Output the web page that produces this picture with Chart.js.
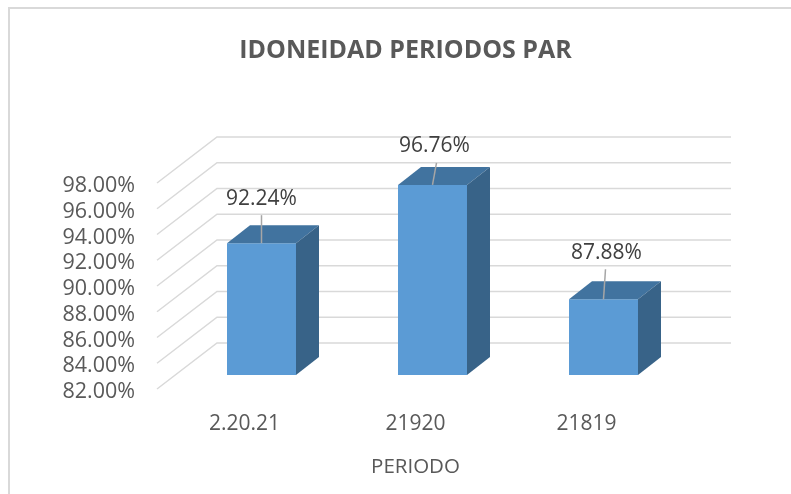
<!DOCTYPE html>
<html>
<head>
<meta charset="utf-8">
<script src="https://cdn.jsdelivr.net/npm/chart.js@4/dist/chart.umd.min.js"></script>
<style>
html, body { margin: 0; padding: 0; background: #fff; overflow: hidden; }
#plot { display: block; position: absolute; left: 0; top: 0; }
</style>
</head>
<body>
<canvas id="plot" width="791" height="494"></canvas>
<script>
const periods = ["2.20.21", "21920", "21819"];
const idoneidad = [92.24, 96.76, 87.88];
const chartTitle = "IDONEIDAD PERIODOS PAR";
const axisTitle = "PERIODO";

// label nudges, same as the hand-moved labels in the original
const labelDx = [0, 2, 3];
const labelDy = [44, 39, 46];
const leaderTop = [[0, 28], [4, 22], [2, 30]];

const font = "'Open Sans', sans-serif";

const fake3d = {
  id: "fake3d",
  beforeDatasetsDraw(chart) {
    const c = chart.ctx, a = chart.chartArea, y = chart.scales.y;
    c.save();
    c.strokeStyle = "#d9d9d9";
    c.lineWidth = 1.5;
    y.ticks.forEach(t => {
      const py = y.getPixelForValue(t.value);
      c.beginPath();
      c.moveTo(a.left - 19, py + 14);
      c.lineTo(a.left + 41, py - 32);
      c.lineTo(a.right + 42, py - 32);
      c.stroke();
    });
    // outer frame
    c.lineWidth = 2;
    c.beginPath();
    c.moveTo(9, 494);
    c.lineTo(9, 8);
    c.lineTo(791, 8);
    c.stroke();
    c.restore();
  },
  afterDatasetsDraw(chart) {
    const c = chart.ctx;
    const bars = chart.getDatasetMeta(0).data;
    const dx = 23, dy = 18;
    c.save();
    bars.forEach((b, i) => {
      const l = b.x - b.width / 2, r = b.x + b.width / 2;
      c.fillStyle = "#41739f";
      c.beginPath();
      c.moveTo(l, b.y);
      c.lineTo(l + dx, b.y - dy);
      c.lineTo(r + dx, b.y - dy);
      c.lineTo(r, b.y);
      c.closePath();
      c.fill();
      c.fillStyle = "#386388";
      c.beginPath();
      c.moveTo(r, b.y);
      c.lineTo(r + dx, b.y - dy);
      c.lineTo(r + dx, b.base - dy);
      c.lineTo(r, b.base);
      c.closePath();
      c.fill();

      // leader line and value
      c.strokeStyle = "#a6a6a6";
      c.lineWidth = 1.5;
      c.beginPath();
      c.moveTo(b.x, b.y);
      c.lineTo(b.x + leaderTop[i][0], b.y - leaderTop[i][1]);
      c.stroke();
      c.fillStyle = "#404040";
      c.font = "21px " + font;
      c.textAlign = "center";
      c.textBaseline = "middle";
      c.fillText(idoneidad[i].toFixed(2) + "%", b.x + labelDx[i], b.y - labelDy[i]);
    });
    // axis title sits under the front edge of the floor
    const x = chart.scales.x;
    c.fillStyle = "#595959";
    c.font = "20.5px " + font;
    c.textAlign = "center";
    c.textBaseline = "middle";
    c.fillText(axisTitle, (x.left + x.right) / 2 - 17, 467);
    c.restore();
  }
};

new Chart(document.getElementById("plot"), {
  type: "bar",
  data: {
    labels: periods,
    datasets: [{
      data: idoneidad,
      base: 82,
      backgroundColor: "#5b9bd5",
      borderColor: "#7fb1e0",
      borderWidth: { bottom: 1 },
      categoryPercentage: 1,
      barPercentage: 0.4035
    }]
  },
  plugins: [fake3d],
  options: {
    responsive: false,
    animation: false,
    layout: { padding: { left: 20 } },
    plugins: {
      legend: { display: false },
      tooltip: { enabled: false },
      title: {
        display: true,
        text: chartTitle,
        color: "#595959",
        font: { family: font, size: 25, weight: "bold" },
        padding: { top: 36, bottom: 103 }
      }
    },
    scales: {
      x: {
        grid: { display: false },
        border: { display: false },
        ticks: { color: "#595959", font: { family: font, size: 21 }, padding: 28, labelOffset: -17 },
        afterFit(s) { s.height = 119; }
      },
      y: {
        min: 82,
        max: 98,
        grid: { display: false, drawTicks: false },
        border: { display: false },
        ticks: {
          stepSize: 2,
          autoSkip: false,
          color: "#595959",
          font: { family: font, size: 21.5 },
          padding: 41,
          labelOffset: 17,
          callback: v => v.toFixed(2) + "%"
        },
        afterFit(s) { s.width = 156; }
      },
      // empty scale, only keeps the plot clear of the right side
      side: {
        position: "right",
        grid: { display: false },
        border: { display: false },
        ticks: { display: false },
        afterFit(s) { s.width = 102; }
      }
    }
  }
});
</script>
</body>
</html>
